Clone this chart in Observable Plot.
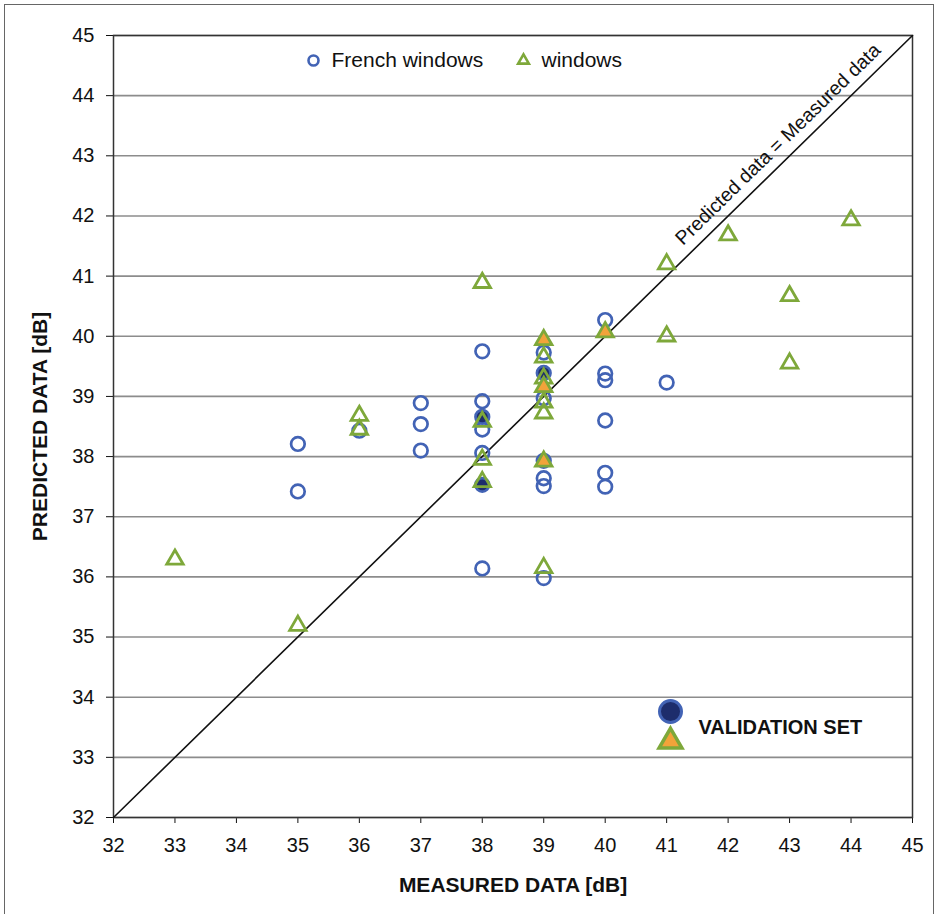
<!DOCTYPE html>
<html>
<head>
<meta charset="utf-8">
<script src="https://cdn.jsdelivr.net/npm/d3@7"></script>
<script src="https://cdn.jsdelivr.net/npm/@observablehq/plot@0.6"></script>
<style>
  html, body { margin: 0; padding: 0; background: #fff; overflow: hidden; }
  #wrap { position: relative; width: 938px; height: 914px; }
  #border { position: absolute; left: 4px; top: 4px; width: 928px; height: 930px; border: 1.5px solid #666; pointer-events: none; }
</style>
</head>
<body>
<div id="wrap"><div id="border"></div></div>
<script>
// ---- data ----
const xTicks = [32,33,34,35,36,37,38,39,40,41,42,43,44,45];
const yTicks = [32,33,34,35,36,37,38,39,40,41,42,43,44,45];
const identityLine = [32, 45];

// French windows (circles)
const frenchMeasured  = [35, 35, 36, 37, 37, 37, 38, 38, 38, 38, 38, 39, 39, 39, 39, 39, 39, 40, 40, 40, 40, 40, 40, 41];
const frenchPredicted = [38.21, 37.42, 38.43, 38.89, 38.54, 38.10, 39.75, 38.92, 38.45, 38.06, 36.14, 39.73, 38.97, 37.93, 37.64, 37.51, 35.98, 40.27, 39.38, 39.27, 38.60, 37.73, 37.50, 39.23];
// French windows, validation set (filled circles)
const frenchValMeasured  = [38, 38, 39];
const frenchValPredicted = [38.66, 37.53, 39.39];

// windows (triangles)
const windowMeasured  = [33, 35, 36, 36, 38, 38, 38, 38, 39, 39, 39, 39, 39, 41, 41, 42, 43, 43, 44];
const windowPredicted = [36.29, 35.19, 38.68, 38.45, 40.89, 38.58, 37.95, 37.58, 39.65, 39.30, 38.90, 38.72, 36.15, 41.20, 40.00, 41.68, 40.67, 39.55, 41.93];
// windows, validation set (filled triangles)
const windowValMeasured  = [39, 39, 39, 40];
const windowValPredicted = [39.94, 39.16, 37.92, 40.07];

const seriesLabels = ["French windows", "windows"];
const validationLabel = "VALIDATION SET";
const diagonalLabel = [{text: "Predicted data = Measured data", at: 43}];
const axisTitles = {x: "MEASURED DATA [dB]", y: "PREDICTED DATA [dB]"};

// ---- build tables ----
const pts = (xs, ys) => xs.map((x, i) => ({x, y: ys[i]}));
const french = pts(frenchMeasured, frenchPredicted);
const frenchVal = pts(frenchValMeasured, frenchValPredicted);
const windowsPts = pts(windowMeasured, windowPredicted);
const windowsVal = pts(windowValMeasured, windowValPredicted);

const BLUE = "#4263b5", NAVY = "#1d2d6c", GREEN = "#7ea83a", ORANGE = "#f2a33a";
const FONT = "'Liberation Sans', Arial, Helvetica, sans-serif";

const plot = Plot.plot({
  width: 938,
  height: 914,
  marginTop: 35,
  marginLeft: 113,
  marginRight: 26,
  marginBottom: 97,
  style: {fontFamily: FONT, fontSize: "20px", color: "#111", background: "#fff", overflow: "visible"},
  x: {domain: [32, 45], ticks: xTicks, tickSize: 6, tickPadding: 14, tickFormat: d => String(d), label: null},
  y: {domain: [32, 45], ticks: yTicks, tickSize: 7, tickPadding: 12, tickFormat: d => String(d), label: null},
  marks: [
    Plot.ruleY(yTicks, {stroke: "#8c8c8c", strokeWidth: 1.6}),
    Plot.frame({stroke: "#333", strokeWidth: 1.5}),
    Plot.line(identityLine, {x: d => d, y: d => d, stroke: "#111", strokeWidth: 1.6}),
    Plot.text(diagonalLabel, {x: d => d.at, y: d => d.at, text: d => d.text, rotate: -44.4, dx: -11.5, dy: -11.5, fontSize: 19.5, fill: "#111"}),

    Plot.dot(french, {x: "x", y: "y", symbol: "circle", r: 6.8, stroke: BLUE, strokeWidth: 2.7, fill: "none"}),
    Plot.dot(frenchVal, {x: "x", y: "y", symbol: "circle", r: 6.8, stroke: BLUE, strokeWidth: 2.7, fill: NAVY}),
    Plot.dot(windowsPts, {x: "x", y: "y", symbol: "triangle", r: 6.1, stroke: GREEN, strokeWidth: 2.8, fill: "none"}),
    Plot.dot(windowsVal, {x: "x", y: "y", symbol: "triangle", r: 6.1, stroke: GREEN, strokeWidth: 2.8, fill: ORANGE}),

    // top legend
    Plot.dot([seriesLabels[0]], {frameAnchor: "top-left", dx: 200, dy: 25, symbol: "circle", r: 5, stroke: BLUE, strokeWidth: 2.6, fill: "none"}),
    Plot.text([seriesLabels[0]], {frameAnchor: "top-left", dx: 218, dy: 25, text: d => d, textAnchor: "start", lineAnchor: "middle", fontSize: 21, fill: "#111"}),
    Plot.dot([seriesLabels[1]], {frameAnchor: "top-left", dx: 410, dy: 25, symbol: "triangle", r: 4, stroke: GREEN, strokeWidth: 2.6, fill: "none"}),
    Plot.text([seriesLabels[1]], {frameAnchor: "top-left", dx: 428, dy: 25, text: d => d, textAnchor: "start", lineAnchor: "middle", fontSize: 21, fill: "#111"}),

    // validation legend
    Plot.dot([validationLabel], {frameAnchor: "bottom-left", dx: 557, dy: -106, symbol: "circle", r: 11, stroke: BLUE, strokeWidth: 3, fill: NAVY}),
    Plot.dot([validationLabel], {frameAnchor: "bottom-left", dx: 557, dy: -76, symbol: "triangle", r: 8.5, stroke: GREEN, strokeWidth: 3.5, fill: ORANGE}),
    Plot.text([validationLabel], {frameAnchor: "bottom-left", dx: 585, dy: -90, text: d => d, textAnchor: "start", lineAnchor: "middle", fontSize: 20, fontWeight: "bold", fill: "#111"}),

    // axis titles
    Plot.text([axisTitles.x], {frameAnchor: "bottom", dy: 68, text: d => d, textAnchor: "middle", lineAnchor: "middle", fontSize: 21, fontWeight: "bold", fill: "#111"}),
    Plot.text([axisTitles.y], {frameAnchor: "left", dx: -73, rotate: -90, text: d => d, textAnchor: "middle", lineAnchor: "middle", fontSize: 21, fontWeight: "bold", fill: "#111"})
  ]
});
document.getElementById("wrap").appendChild(plot);
</script>
</body>
</html>
